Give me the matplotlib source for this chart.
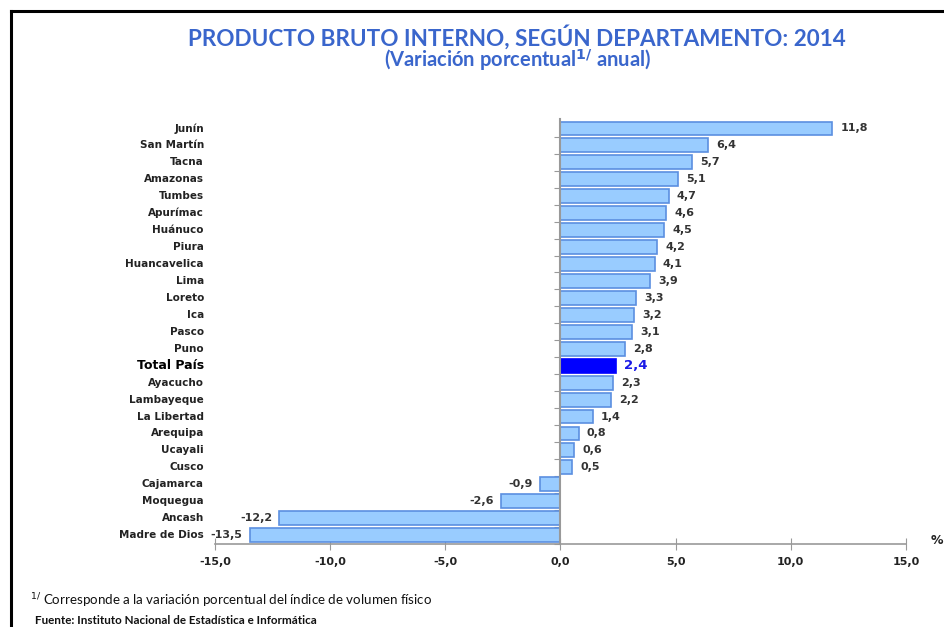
import numpy as np
import matplotlib.pyplot as plt
from matplotlib.transforms import blended_transform_factory

# datos
departamentos = ["Junín", "San Martín", "Tacna", "Amazonas", "Tumbes", "Apurímac",
                 "Huánuco", "Piura", "Huancavelica", "Lima", "Loreto", "Ica", "Pasco",
                 "Puno", "Total País", "Ayacucho", "Lambayeque", "La Libertad",
                 "Arequipa", "Ucayali", "Cusco", "Cajamarca", "Moquegua", "Ancash",
                 "Madre de Dios"]
variacion = [11.8, 6.4, 5.7, 5.1, 4.7, 4.6, 4.5, 4.2, 4.1, 3.9, 3.3, 3.2, 3.1,
             2.8, 2.4, 2.3, 2.2, 1.4, 0.8, 0.6, 0.5, -0.9, -2.6, -12.2, -13.5]
xticks = [-15, -10, -5, 0, 5, 10, 15]

fig = plt.figure(figsize=(9.45, 6.27), dpi=100)
ax = fig.add_axes([0.2275, 0.133, 0.7312, 0.677])

y = np.arange(len(departamentos))
colores = ["#0000FF" if d == "Total País" else "#99CCFF" for d in departamentos]
bordes = ["#0000FF" if d == "Total País" else "#5B8FE0" for d in departamentos]
ax.barh(y, variacion, height=0.82, color=colores, edgecolor=bordes, linewidth=1.2, zorder=2)

ax.set_xlim(-15, 15)
ax.set_ylim(len(departamentos) - 0.55, -0.55)

# ejes
for s in ["top", "right"]:
    ax.spines[s].set_visible(False)
ax.spines["left"].set_position(("data", 0))
ax.spines["left"].set_color("#999999")
ax.spines["left"].set_linewidth(1.5)
ax.spines["bottom"].set_color("#999999")
ax.spines["bottom"].set_linewidth(1.2)

ax.set_xticks(xticks)
ax.set_xticklabels([f"{v:.1f}".replace(".", ",") for v in xticks],
                   fontsize=8, fontweight="bold", color="#222222")
ax.tick_params(axis="x", direction="inout", length=9, color="#999999", pad=5)
ax.set_yticks(y + 0.5, minor=False)
ax.set_yticklabels([])
ax.tick_params(axis="y", direction="out", length=4, color="#999999")

# etiquetas de categorias
trans = blended_transform_factory(ax.transAxes, ax.transData)
for i, (d, v) in enumerate(zip(departamentos, variacion)):
    if d == "Total País":
        ax.text(-0.016, i, d, transform=trans, ha="right", va="center",
                fontsize=9, fontweight="bold", color="black")
        ax.text(v + 0.35, i, f"{v:.1f}".replace(".", ","), ha="left", va="center",
                fontsize=9.5, fontweight="bold", color="#1A1AE6")
    else:
        ax.text(-0.016, i, d, transform=trans, ha="right", va="center",
                fontsize=7.5, color="#222222", fontweight="semibold")
        if v >= 0:
            ax.text(v + 0.35, i, f"{v:.1f}".replace(".", ","), ha="left", va="center",
                    fontsize=8, fontweight="bold", color="#333333")
        else:
            ax.text(v - 0.3, i, f"{v:.1f}".replace(".", ","), ha="right", va="center",
                    fontsize=8, fontweight="bold", color="#333333")

fig.text(937 / 945, 1 - 541 / 627, "%", ha="center", va="center",
         fontsize=9, fontweight="bold", color="#222222")

# titulos
azul = "#3A66CC"
fig.text(517 / 945, 1 - 37 / 627, "PRODUCTO BRUTO INTERNO, SEGÚN DEPARTAMENTO: 2014",
         ha="center", va="center", fontsize=16.2, fontweight="bold", color=azul, family="Lato")
fig.text(517 / 945, 1 - 60 / 627, r"(Variación porcentual$^{\mathbf{1/}}$ anual)",
         ha="center", va="center", fontsize=14.5, fontweight="bold", color=azul, family="Lato")

# notas
fig.text(30 / 945, 1 - 601 / 627,
         r"$^{1/}$ Corresponde a la variación porcentual del índice de volumen físico",
         ha="left", va="center", fontsize=9.6, color="#111111", family="Lato")
fig.text(35 / 945, 1 - 620 / 627, "Fuente: Instituto Nacional de Estadística e Informática",
         ha="left", va="center", fontsize=8.4, fontweight="bold", color="#111111", family="Lato")

# marco
fig.add_artist(plt.Line2D([11 / 945, 1.0], [1 - 11 / 627, 1 - 11 / 627],
                          transform=fig.transFigure, color="black", linewidth=2.2))
fig.add_artist(plt.Line2D([11 / 945, 11 / 945], [1 - 11 / 627, 0.0],
                          transform=fig.transFigure, color="black", linewidth=2.2))

fig.savefig("out.png", dpi=100)
